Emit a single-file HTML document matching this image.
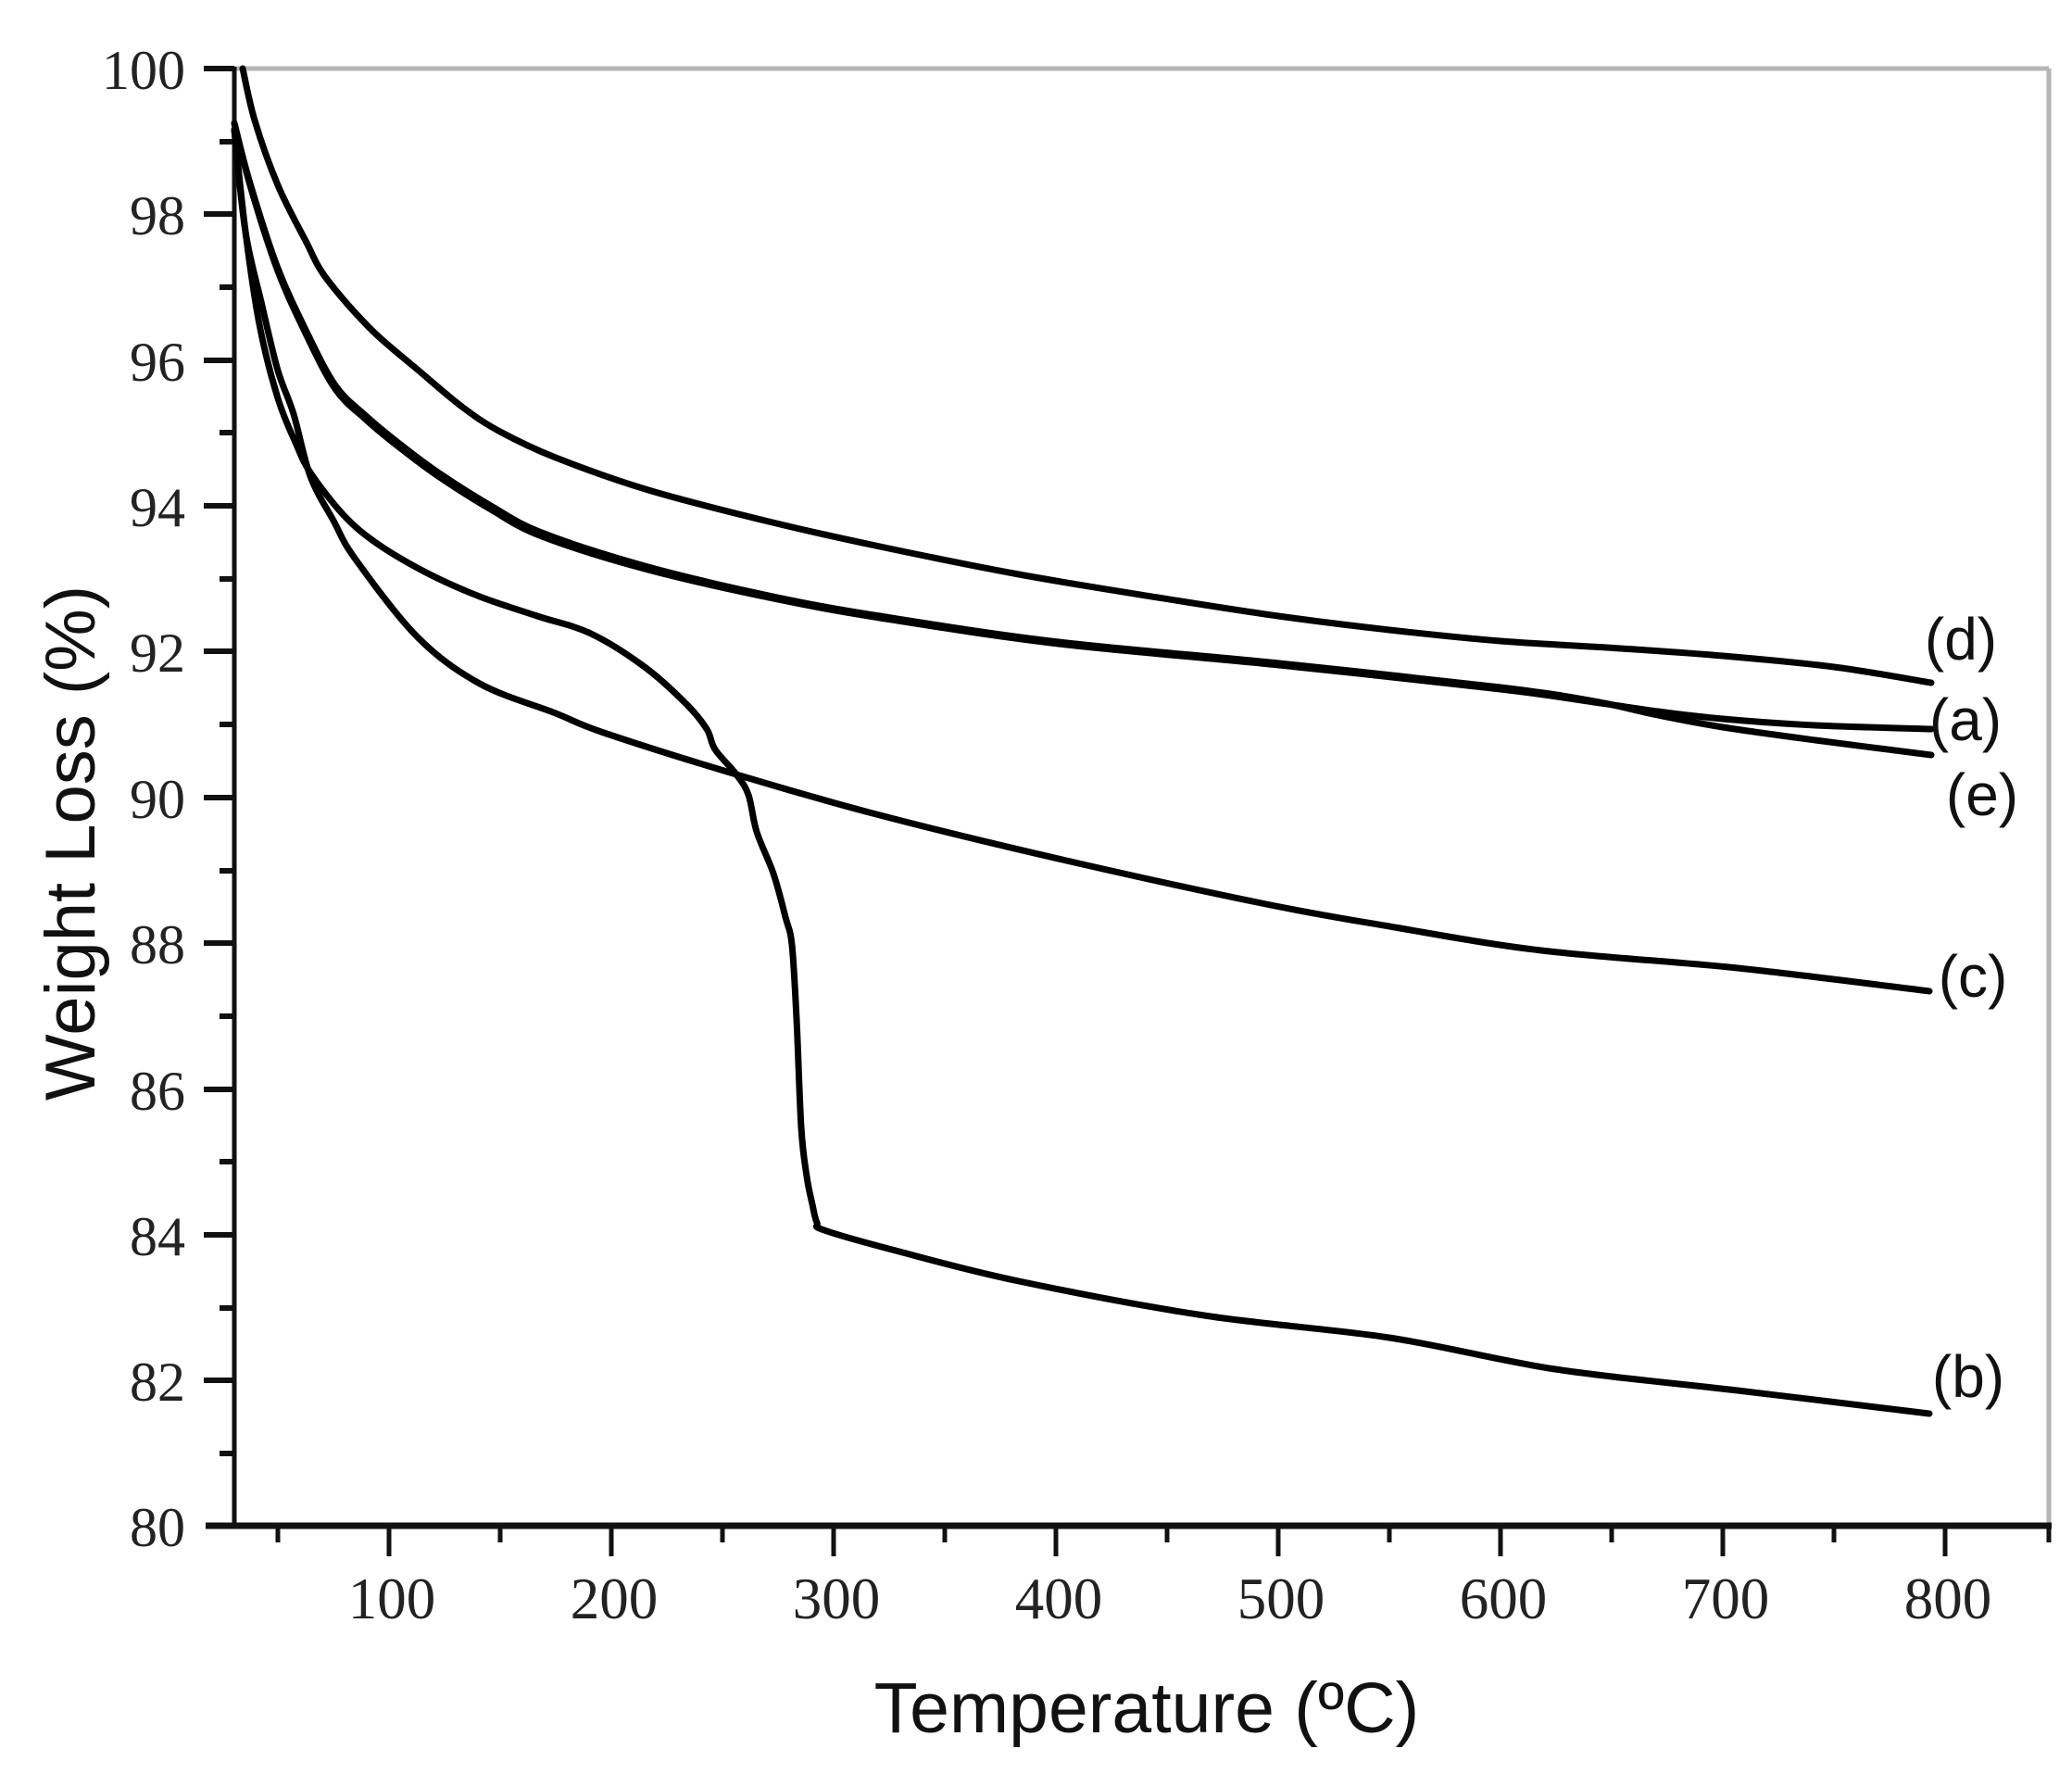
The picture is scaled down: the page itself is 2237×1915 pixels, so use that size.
<!DOCTYPE html>
<html><head><meta charset="utf-8"><style>html,body{margin:0;padding:0;background:#fff}svg{display:block}</style></head>
<body>
<svg id="s" width="2237" height="1915" viewBox="0 0 2237 1915" xmlns="http://www.w3.org/2000/svg">
<rect width="2237" height="1915" fill="#fff"/>
<line x1="253" y1="74" x2="2212" y2="74" stroke="#b4b4b4" stroke-width="5"/>
<line x1="2212" y1="74" x2="2212" y2="1665" stroke="#b4b4b4" stroke-width="5"/>
<line x1="253" y1="72" x2="253" y2="1650" stroke="#111" stroke-width="5"/>
<line x1="222" y1="1647" x2="2215" y2="1647" stroke="#111" stroke-width="7"/>
<g stroke="#111" stroke-width="6">
<line x1="220" y1="74" x2="253" y2="74"/>
<line x1="237" y1="153" x2="253" y2="153"/>
<line x1="220" y1="231" x2="253" y2="231"/>
<line x1="237" y1="310" x2="253" y2="310"/>
<line x1="220" y1="389" x2="253" y2="389"/>
<line x1="237" y1="467" x2="253" y2="467"/>
<line x1="220" y1="546" x2="253" y2="546"/>
<line x1="237" y1="625" x2="253" y2="625"/>
<line x1="220" y1="703" x2="253" y2="703"/>
<line x1="237" y1="782" x2="253" y2="782"/>
<line x1="220" y1="861" x2="253" y2="861"/>
<line x1="237" y1="940" x2="253" y2="940"/>
<line x1="220" y1="1018" x2="253" y2="1018"/>
<line x1="237" y1="1097" x2="253" y2="1097"/>
<line x1="220" y1="1176" x2="253" y2="1176"/>
<line x1="237" y1="1254" x2="253" y2="1254"/>
<line x1="220" y1="1333" x2="253" y2="1333"/>
<line x1="237" y1="1412" x2="253" y2="1412"/>
<line x1="220" y1="1490" x2="253" y2="1490"/>
<line x1="237" y1="1569" x2="253" y2="1569"/>
</g>
<g stroke="#111" stroke-width="5">
<line x1="300" y1="1647" x2="300" y2="1665"/>
<line x1="420" y1="1647" x2="420" y2="1680"/>
<line x1="540" y1="1647" x2="540" y2="1665"/>
<line x1="660" y1="1647" x2="660" y2="1680"/>
<line x1="780" y1="1647" x2="780" y2="1665"/>
<line x1="900" y1="1647" x2="900" y2="1680"/>
<line x1="1020" y1="1647" x2="1020" y2="1665"/>
<line x1="1140" y1="1647" x2="1140" y2="1680"/>
<line x1="1260" y1="1647" x2="1260" y2="1665"/>
<line x1="1380" y1="1647" x2="1380" y2="1680"/>
<line x1="1500" y1="1647" x2="1500" y2="1665"/>
<line x1="1620" y1="1647" x2="1620" y2="1680"/>
<line x1="1740" y1="1647" x2="1740" y2="1665"/>
<line x1="1860" y1="1647" x2="1860" y2="1680"/>
<line x1="1980" y1="1647" x2="1980" y2="1665"/>
<line x1="2100" y1="1647" x2="2100" y2="1680"/>
<line x1="2212" y1="1647" x2="2212" y2="1665"/>
</g>
<g font-family="Liberation Serif, serif" font-size="60" fill="#222" text-anchor="end">
<text x="200" y="96">100</text>
<text x="200" y="253">98</text>
<text x="200" y="411">96</text>
<text x="200" y="568">94</text>
<text x="200" y="725">92</text>
<text x="200" y="883">90</text>
<text x="200" y="1040">88</text>
<text x="200" y="1198">86</text>
<text x="200" y="1355">84</text>
<text x="200" y="1512">82</text>
<text x="200" y="1669">80</text>
</g>
<g font-family="Liberation Serif, serif" font-size="63" fill="#222" text-anchor="middle">
<text x="423" y="1747">100</text>
<text x="663" y="1747">200</text>
<text x="903" y="1747">300</text>
<text x="1143" y="1747">400</text>
<text x="1383" y="1747">500</text>
<text x="1623" y="1747">600</text>
<text x="1863" y="1747">700</text>
<text x="2103" y="1747">800</text>
</g>
<text x="1238" y="1870" font-family="Liberation Sans, sans-serif" font-size="77" text-anchor="middle" fill="#111">Temperature (ºC)</text>
<text transform="translate(102,910) rotate(-90)" font-family="Liberation Sans, sans-serif" font-size="76" text-anchor="middle" fill="#111">Weight Loss (%)</text>
<g id="curves" fill="none" stroke="#000" stroke-width="7" stroke-linejoin="round" stroke-linecap="round">
<polyline points="262,74 275,130 300,200 330,260 352,300 400,355 452,400 500,440 540,466 600,494 700,529 830,563 950,590 1100,620 1250,645 1380,665 1500,680 1620,692 1750,700 1860,708 1980,720 2085,737"/>
<polyline points="253,133 270,200 299,290 330,360 362,420 394,452 430,482 473,514 530,550 585,579 696,614 830,645 950,667 1143,695 1381,718 1620,744 1721,758 1790,768 1860,776 1960,783 2085,787"/>
<polyline points="253,133 270,198 299,287 330,356 362,416 394,448 430,478 473,510 530,546 585,575 696,611 830,643 950,665 1143,693 1381,716 1620,742 1721,757 1790,772 1860,785 1960,799 2085,815"/>
<polyline points="253,140 265,250 280,350 300,430 320,480 335,510 370,555 406,586 460,618 518,644 580,665 638,684 696,720 741,760 763,787 772,809 795,836 808,858 817,898 835,943 848,990 855,1020 860,1100 865,1217 871,1270 877,1300 882,1320 890,1328 967,1350 1100,1383 1300,1420 1500,1444 1679,1478 1876,1501 2083,1526"/>
<polyline points="253,140 265,250 283,330 300,400 317,447 335,514 360,562 384,604 451,688 518,738 600,770 652,791 795,836 950,880 1147,928 1362,975 1500,1000 1664,1026 1876,1045 2083,1070"/>
</g>
<g font-family="Liberation Sans, sans-serif" font-size="64" fill="#111" text-anchor="middle">
<text x="2117" y="712">(d)</text>
<text x="2122" y="799">(a)</text>
<text x="2140" y="880">(e)</text>
<text x="2130" y="1076">(c)</text>
<text x="2125" y="1508">(b)</text>
</g>
</svg>
<script>
(function(){
var NS="http://www.w3.org/2000/svg";
var pls=document.querySelectorAll('#curves polyline');
for(var k=0;k<pls.length;k++){
var pl=pls[k];
var p=pl.getAttribute('points').trim().split(/\s+/).map(function(s){var a=s.split(',');return [+a[0],+a[1]];});
var d="M"+p[0][0]+","+p[0][1];
for(var i=0;i<p.length-1;i++){
var p0=p[i-1]||p[i],p1=p[i],p2=p[i+1],p3=p[i+2]||p[i+1];
var t=1/6;
var c1x=p1[0]+(p2[0]-p0[0])*t,c1y=p1[1]+(p2[1]-p0[1])*t;
var c2x=p2[0]-(p3[0]-p1[0])*t,c2y=p2[1]-(p3[1]-p1[1])*t;
d+=" C"+c1x.toFixed(1)+","+c1y.toFixed(1)+" "+c2x.toFixed(1)+","+c2y.toFixed(1)+" "+p2[0]+","+p2[1];
}
var path=document.createElementNS(NS,'path');
path.setAttribute('d',d);
pl.parentNode.replaceChild(path,pl);
}
})();
</script>
</body></html>
